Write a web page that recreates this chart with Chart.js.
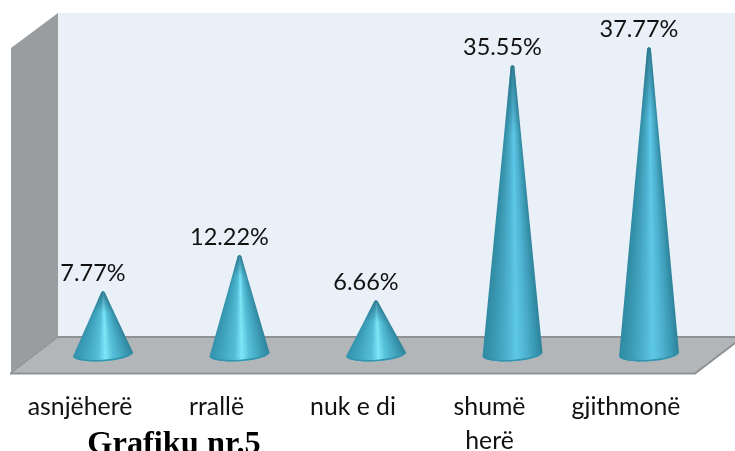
<!DOCTYPE html>
<html><head><meta charset="utf-8">
<style>html,body{margin:0;padding:0;background:#fff}canvas{display:block}</style>
<script src="https://cdn.jsdelivr.net/npm/chart.js@4"></script>
</head><body><canvas id="c" width="735" height="451"></canvas>
<script>
const categories = ["asnjëherë","rrallë","nuk e di",["shumë","herë"],"gjithmonë"];
const values = [7.77,12.22,6.66,35.55,37.77];
const valueLabels = ["7.77%","12.22%","6.66%","35.55%","37.77%"];
const chartTitle = "Grafiku nr.5";

const shortStops = [[0,'#3290aa'],[0.2,'#40a4be'],[0.42,'#54bed6'],[0.54,'#7de6f8'],[0.66,'#56c0d8'],[0.85,'#3f9fb9'],[1,'#2f849b']];
const tallStops  = [[0,'#2e88a0'],[0.2,'#3c9ab4'],[0.42,'#4eb2d0'],[0.56,'#5ec8e8'],[0.72,'#4eb2d0'],[0.88,'#3a98b2'],[1,'#2c8098']];

const scene = {
  id:'scene',
  beforeDatasetsDraw(chart){
    const c=chart.ctx;
    c.save();
    c.fillStyle='#e9f0f7'; c.fillRect(58,13,677,324);
    c.fillStyle='#999d9f';
    c.beginPath(); c.moveTo(11,48); c.lineTo(58,13); c.lineTo(58,337); c.lineTo(11,373); c.closePath(); c.fill();
    c.fillStyle='#b2b6b9';
    c.beginPath(); c.moveTo(58,337); c.lineTo(735,337); c.lineTo(735,343); c.lineTo(695,373); c.lineTo(11,373); c.closePath(); c.fill();
    c.strokeStyle='#8f9294'; c.lineWidth=2;
    c.beginPath(); c.moveTo(58,337); c.lineTo(735,337); c.stroke();
    c.beginPath(); c.moveTo(10,373.5); c.lineTo(695,373.5); c.lineTo(735,343); c.stroke();
    c.lineWidth=1; c.strokeStyle='#85888a';
    c.beginPath(); c.moveTo(11,373); c.lineTo(58,337); c.stroke();
    c.restore();
  },
  afterDatasetsDraw(chart){
    const c=chart.ctx, meta=chart.getDatasetMeta(0);
    meta.data.forEach((bar)=>{
      const x=bar.x, tip=bar.y, base=bar.base, rx=30, ry=7, rot=-0.065, tw=1.8;
      const h=base-tip, stops=h>150?tallStops:shortStops;
      c.save();
      c.beginPath();
      c.moveTo(x-tw,tip+1.5);
      c.quadraticCurveTo(x,tip-1.5,x+tw,tip+1.5);
      c.lineTo(x+rx*Math.cos(rot),base+rx*Math.sin(rot));
      c.ellipse(x,base,rx,ry,rot,0,Math.PI);
      c.closePath();
      c.clip();
      for(let y=Math.floor(tip)-2;y<base+ry+3;y++){
        const f=Math.min(1,Math.max(0,(y-tip)/h));
        const w=tw+(rx-tw)*f+0.5;
        const g=c.createLinearGradient(x-w,0,x+w,0);
        stops.forEach(s=>g.addColorStop(s[0],s[1]));
        c.fillStyle=g;
        c.fillRect(x-w-1,y,2*w+2,1);
      }
      const d=c.createLinearGradient(0,tip,0,tip+(h>150?70:22));
      d.addColorStop(0,'rgba(34,104,124,.75)');
      d.addColorStop(1,'rgba(34,104,124,0)');
      c.fillStyle=d; c.fillRect(x-rx-2,tip-3,2*rx+4,(h>150?74:26));
      c.beginPath();
      c.ellipse(x,base,rx,ry,rot,0,Math.PI);
      c.strokeStyle='rgba(48,146,172,.95)'; c.lineWidth=3; c.stroke();
      c.restore();
    });
    c.save();
    c.fillStyle='#111'; c.textAlign='center'; c.textBaseline='alphabetic';
    c.font='23.5px Lato';
    meta.data.forEach((bar,i)=>{ c.fillText(valueLabels[i],bar.x-10,bar.y-10); });
    c.fillStyle='#000'; c.font='bold 32.4px "Liberation Serif"';
    c.fillText(chartTitle,174,453);
    c.restore();
  }
};

new Chart(document.getElementById('c'),{
  type:'bar',
  data:{labels:categories,datasets:[{data:values,backgroundColor:'rgba(0,0,0,0)',borderWidth:0}]},
  plugins:[scene],
  options:{
    responsive:false,animation:false,
    layout:{padding:{left:34.75,right:17.75,top:28.9,bottom:0}},
    plugins:{legend:{display:false},title:{display:false},tooltip:{enabled:false}},
    scales:{
      x:{
        grid:{display:false,drawTicks:false},border:{display:false},
        ticks:{maxRotation:0,autoSkip:false,padding:36.5,labelOffset:-23,color:'#111',font:{family:'Lato',size:24.8,lineHeight:1.35}},
        afterFit(s){s.height=96.8;s.paddingLeft=0;s.paddingRight=0;}
      },
      y:{display:false,min:0,max:40}
    }
  }
});
</script></body></html>
